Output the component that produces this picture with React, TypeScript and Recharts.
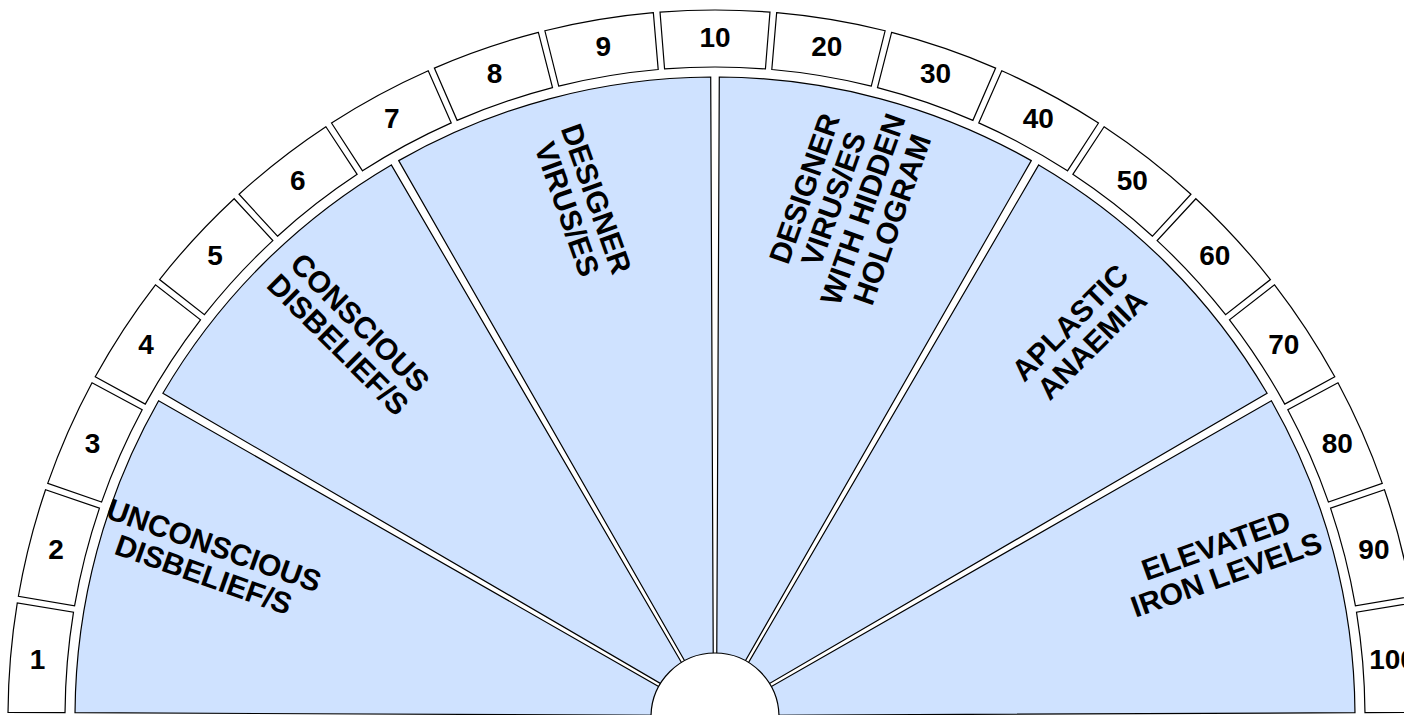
import React from "react";
import { Pie, PieChart } from "recharts";

// Half-dial chart: an outer ring of 19 numbered cells and six labelled wedges inside it.
// Sectors are drawn inset from their neighbours so the white gutters keep a steady width.

const ringLabels = ["1", "2", "3", "4", "5", "6", "7", "8", "9", "10", "20", "30", "40", "50", "60", "70", "80", "90", "100"];
const ringValues = [1, 1, 1, 1, 1, 1, 1, 1, 1, 1, 1, 1, 1, 1, 1, 1, 1, 1, 1];

const wedgeLabels = [
  ["UNCONSCIOUS", "DISBELIEF/S"],
  ["CONSCIOUS", "DISBELIEF/S"],
  ["DESIGNER", "VIRUS/ES"],
  ["DESIGNER", "VIRUS/ES", "WITH HIDDEN", "HOLOGRAM"],
  ["APLASTIC", "ANAEMIA"],
  ["ELEVATED", "IRON LEVELS"],
];
const wedgeValues = [1, 1, 1, 1, 1, 1];

const ringData = ringLabels.map((name, i) => ({ name, value: ringValues[i] }));
const wedgeData = wedgeLabels.map((lines, i) => ({ name: lines.join(" "), value: wedgeValues[i] }));
const hubData = [{ name: "hub", value: 1 }];

const CX = 715;
const CY = 717;
const FONT = "'Liberation Sans', Arial, Helvetica, sans-serif";
const WEDGE_FILL = "#cfe2ff";
const RAD = Math.PI / 180;

const pt = (cx: number, cy: number, r: number, a: number): [number, number] => [
  cx + r * Math.cos(a * RAD),
  cy - r * Math.sin(a * RAD),
];

// Sector path pulled in by `gap` px on each straight side (recharts angles, y up).
function insetSector(cx: number, cy: number, rIn: number, rOut: number, a1: number, a2: number, gap: number) {
  const lo = Math.min(a1, a2);
  const hi = Math.max(a1, a2);
  const dOut = Math.asin(gap / rOut) / RAD;
  const dIn = Math.asin(Math.min(1, gap / rIn)) / RAD;
  const [x1, y1] = pt(cx, cy, rOut, hi - dOut);
  const [x2, y2] = pt(cx, cy, rOut, lo + dOut);
  const [x3, y3] = pt(cx, cy, rIn, lo + dIn);
  const [x4, y4] = pt(cx, cy, rIn, hi - dIn);
  return `M${x1},${y1} A${rOut},${rOut} 0 0 1 ${x2},${y2} L${x3},${y3} A${rIn},${rIn} 0 0 0 ${x4},${y4} Z`;
}

const renderRingCell = (props: any) => {
  const { cx, cy, innerRadius, outerRadius, startAngle, endAngle, index } = props;
  const mid = (startAngle + endAngle) / 2;
  const [x, y] = pt(cx, cy, 680, mid);
  return (
    <g key={`ring-${index}`}>
      <path
        d={insetSector(cx, cy, innerRadius, outerRadius, startAngle, endAngle, 1.5)}
        fill="#fff"
        stroke="#000"
        strokeWidth={1.2}
      />
      <text
        x={x}
        y={y}
        textAnchor="middle"
        dominantBaseline="central"
        fontFamily={FONT}
        fontWeight="bold"
        fontSize={28}
        fill="#000"
      >
        {ringLabels[index]}
      </text>
    </g>
  );
};

// left half reads inward, right half reads outward
const wedgeRotation = (mid: number) => (mid >= 90 ? 45 + (135 - mid) * 0.85 : -(45 + (mid - 45) * 0.85));

const renderWedge = (props: any) => {
  const { cx, cy, innerRadius, outerRadius, startAngle, endAngle, index } = props;
  const mid = (startAngle + endAngle) / 2;
  // labels sit a touch toward the vertical axis
  const [x, y] = pt(cx, cy, 530, mid + (90 - mid) * 0.03);
  const lines = wedgeLabels[index];
  const lineHeight = 31;
  const rot = wedgeRotation(mid);
  return (
    <g key={`wedge-${index}`}>
      <path
        d={insetSector(cx, cy, innerRadius, outerRadius, startAngle, endAngle, 1.5)}
        fill={WEDGE_FILL}
        stroke="#000"
        strokeWidth={1.2}
      />
      {lines.map((line, k) => (
        <text
          key={k}
          x={x}
          y={y + (k - (lines.length - 1) / 2) * lineHeight}
          transform={`rotate(${rot}, ${x}, ${y})`}
          textAnchor="middle"
          dominantBaseline="central"
          fontFamily={FONT}
          fontWeight="bold"
          fontSize={30}
          fill="#000"
        >
          {line}
        </text>
      ))}
    </g>
  );
};

// hub drawn in the label layer so it sits above the wedges
const renderHub = (props: any) => {
  const { cx, cy, outerRadius } = props;
  return <circle key="hub" cx={cx} cy={cy} r={outerRadius} fill="#fff" stroke="#000" strokeWidth={1.2} />;
};

export default function App() {
  return (
    <div style={{ position: "absolute", left: 0, top: 0, width: 1404, height: 715, background: "#fff" }}>
      <PieChart width={1404} height={715} margin={{ top: 0, right: 0, bottom: 0, left: 0 }}>
        <Pie
          data={ringData}
          dataKey="value"
          nameKey="name"
          cx={CX}
          cy={CY}
          startAngle={179.75}
          endAngle={0.25}
          innerRadius={650}
          outerRadius={707}
          paddingAngle={0.3}
          fill="none"
          stroke="none"
          label={renderRingCell}
          labelLine={false}
          isAnimationActive={false}
        />
        <Pie
          data={wedgeData}
          dataKey="value"
          nameKey="name"
          cx={CX}
          cy={CY}
          startAngle={179.75}
          endAngle={0.25}
          innerRadius={40}
          outerRadius={640}
          paddingAngle={0.5}
          fill="none"
          stroke="none"
          label={renderWedge}
          labelLine={false}
          isAnimationActive={false}
        />
        <Pie
          data={hubData}
          dataKey="value"
          cx={CX}
          cy={CY}
          startAngle={0}
          endAngle={360}
          innerRadius={0}
          outerRadius={64}
          fill="none"
          stroke="none"
          label={renderHub}
          labelLine={false}
          isAnimationActive={false}
        />
      </PieChart>
    </div>
  );
}
